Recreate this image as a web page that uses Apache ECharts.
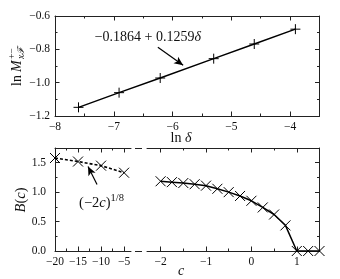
<!DOCTYPE html>
<html><head><meta charset="utf-8">
<script src="https://cdn.jsdelivr.net/npm/echarts@6/dist/echarts.min.js"></script>
<style>html,body{margin:0;padding:0;background:#fff}#c{width:340px;height:279px}</style>
</head><body><div id="c"></div>
<script>
// ---- data ----
const lnDelta = [-7.60, -6.91, -6.21, -5.30, -4.61, -3.91];
const lnM = [-1.148, -1.060, -0.972, -0.856, -0.768, -0.679];
const cLeft = [-20, -15, -10, -5];
const bLeft = [1.58, 1.52, 1.45, 1.33];
const cRight = [-2, -1.75, -1.5, -1.25, -1, -0.75, -0.5, -0.25, 0, 0.25, 0.5, 0.75, 1, 1.25, 1.5];
const bRight = [1.185, 1.17, 1.155, 1.135, 1.11, 1.057, 1.0, 0.935, 0.853, 0.74, 0.62, 0.435, 0, 0, 0];
// ticks
const topXMajor = [-8, -7, -6, -5, -4], topXMinor = [-7.5, -6.5, -5.5, -4.5];
const topYMajor = [-1.2, -1.0, -0.8, -0.6], topYMinor = [-1.1, -0.9, -0.7];
const leftXMajor = [-20, -15, -10, -5], leftXMinor = [-17.5, -12.5, -7.5];
const botYMajor = [0, 0.5, 1.0, 1.5], botYMinor = [0.25, 0.75, 1.25];
const rightXMajor = [-2, -1, 0, 1], rightXMinor = [-1.5, -0.5, 0.5];
// annotations (data coords)
const fitArrow = [[-6.25, -0.787], [-5.82, -0.895]];
const fitText = [-6.42, -0.727];
const powArrow = [[-10.87, 1.13], [-12.83, 1.437]];
const powText = [-9.9, 0.82];

const FONT = 'Liberation Serif';
const INK = '#111';
const fmt1 = v => (v < 0 ? '\u2212' : '') + Math.abs(v).toFixed(1);
const fmt0 = v => (v < 0 ? '\u2212' : '') + Math.abs(Math.round(v));

function ax(grid, min, max, pos, vals, len, line, labels, formatter, margin) {
  return {
    type: 'value', gridIndex: grid, min: min, max: max, position: pos,
    axisLine: {show: line, onZero: false, lineStyle: {color: '#222', width: 1}},
    axisTick: {show: true, inside: true, length: len, customValues: vals, lineStyle: {color: '#222', width: 1}},
    axisLabel: labels ? {show: true, customValues: vals, formatter: formatter, margin: margin,
      fontFamily: FONT, fontSize: 11.5, color: INK} : {show: false},
    splitLine: {show: false}, minorTick: {show: false}
  };
}
const MAJ = 4.5, MIN = 2.5;
const xAxes = [
  // grid 0 (top)
  ax(0, -8, -3.5, 'bottom', topXMajor, MAJ, true, true, fmt0, 5),
  ax(0, -8, -3.5, 'bottom', topXMinor, MIN, false, false),
  ax(0, -8, -3.5, 'top', topXMajor, MAJ, true, false),
  ax(0, -8, -3.5, 'top', topXMinor, MIN, false, false),
  // grid 1 (bottom left)
  ax(1, -20, -3.5, 'bottom', leftXMajor, MAJ, true, true, fmt0, 5),
  ax(1, -20, -3.5, 'bottom', leftXMinor, MIN, false, false),
  ax(1, -20, -3.5, 'top', leftXMajor, MAJ, true, false),
  ax(1, -20, -3.5, 'top', leftXMinor, MIN, false, false),
  // grid 2 (bottom right)
  ax(2, -2.3, 1.5, 'bottom', rightXMajor, MAJ, true, true, fmt0, 5),
  ax(2, -2.3, 1.5, 'bottom', rightXMinor, MIN, false, false),
  ax(2, -2.3, 1.5, 'top', rightXMajor, MAJ, true, false),
  ax(2, -2.3, 1.5, 'top', rightXMinor, MIN, false, false)
];
const yAxes = [
  ax(0, -1.2, -0.6, 'left', topYMajor, MAJ, true, true, fmt1, 5),
  ax(0, -1.2, -0.6, 'left', topYMinor, MIN, false, false),
  ax(0, -1.2, -0.6, 'right', topYMajor, MAJ, true, false),
  ax(0, -1.2, -0.6, 'right', topYMinor, MIN, false, false),
  ax(1, 0, 1.75, 'left', botYMajor, MAJ, true, true, fmt1, 9),
  ax(1, 0, 1.75, 'left', botYMinor, MIN, false, false),
  ax(2, 0, 1.75, 'right', botYMajor, MAJ, true, false),
  ax(2, 0, 1.75, 'right', botYMinor, MIN, false, false)
];

const plusPath = 'path://M5,0L5,10M0,5L10,5';
const crossPath = 'path://M0,0L10,10M10,0L0,10';
const mk = {color: '#000', borderColor: '#000', borderWidth: 1};

function arrowLine(pts) {
  return {
    silent: true, animation: false, symbol: ['none', 'arrow'], symbolSize: [6, 9],
    lineStyle: {color: '#000', width: 1.2, type: 'solid'}, label: {show: false},
    data: [[{coord: pts[0], symbol: 'none'}, {coord: pts[1], symbol: 'arrow'}]]
  };
}
function textPoint(pt, txt, rich) {
  return {
    silent: true, animation: false,
    data: [{coord: pt, symbol: 'circle', symbolSize: 0, itemStyle: {color: 'rgba(0,0,0,0)'},
      label: {show: true, position: 'inside', formatter: txt, rich: rich}}]
  };
}

const option = {
  animation: false,
  backgroundColor: '#fff',
  grid: [
    {left: 55, top: 16, width: 264.5, height: 100, outerBoundsMode: 'none'},
    {left: 55, top: 148, width: 76, height: 103, outerBoundsMode: 'none'},
    {left: 147, top: 148, width: 172.5, height: 103, outerBoundsMode: 'none'}
  ],
  xAxis: xAxes,
  yAxis: yAxes,
  series: [
    {
      type: 'line', xAxisIndex: 0, yAxisIndex: 0,
      data: lnDelta.map((x, i) => [x, lnM[i]]),
      symbol: plusPath, symbolSize: 10, itemStyle: mk,
      lineStyle: {color: '#000', width: 1.5},
      markLine: arrowLine(fitArrow),
      markPoint: textPoint(fitText, '{n|\u22120.1864 + 0.1259}{i|\u03b4}', {
        n: {fontFamily: FONT, fontSize: 14, color: INK},
        i: {fontFamily: FONT, fontSize: 14, fontStyle: 'italic', color: INK}
      })
    },
    {
      type: 'line', xAxisIndex: 4, yAxisIndex: 4,
      data: cLeft.map((x, i) => [x, bLeft[i]]),
      symbol: crossPath, symbolSize: 10, itemStyle: mk,
      lineStyle: {color: '#000', width: 1.6, type: [3, 2]},
      markLine: arrowLine(powArrow),
      markPoint: textPoint(powText, '{n|(\u22122}{i|c}{n|)}{s|1/8}', {
        n: {fontFamily: FONT, fontSize: 14.5, color: INK, lineHeight: 20},
        i: {fontFamily: FONT, fontSize: 14.5, fontStyle: 'italic', color: INK, lineHeight: 20},
        s: {fontFamily: FONT, fontSize: 10.5, color: INK, lineHeight: 10, verticalAlign: 'top'}
      })
    },
    {
      type: 'line', xAxisIndex: 8, yAxisIndex: 6,
      data: cRight.map((x, i) => [x, bRight[i]]),
      symbol: crossPath, symbolSize: 10, itemStyle: mk,
      lineStyle: {color: '#000', width: 1.5}
    }
  ],
  graphic: [
    // axis break dashes
    {type: 'line', shape: {x1: 135, y1: 148.5, x2: 142, y2: 148.5}, style: {stroke: '#222', lineWidth: 1}},
    {type: 'line', shape: {x1: 135, y1: 251.5, x2: 142, y2: 251.5}, style: {stroke: '#222', lineWidth: 1}},
    // axis titles
    {type: 'text', x: 181, y: 138, style: {text: '{n|ln }{i|\u03b4}', align: 'center', verticalAlign: 'middle',
      rich: {n: {fontFamily: FONT, fontSize: 14, fill: INK}, i: {fontFamily: FONT, fontSize: 14, fontStyle: 'italic', fill: INK}}}},
    {type: 'text', x: 181, y: 271, style: {text: 'c', fontFamily: FONT, fontSize: 14, fontStyle: 'italic', fill: INK, align: 'center', verticalAlign: 'middle'}},
    {type: 'text', x: 21, y: 200, rotation: Math.PI / 2, style: {text: '{i|B}{n|(}{i|c}{n|)}', align: 'center', verticalAlign: 'middle',
      rich: {n: {fontFamily: FONT, fontSize: 14.5, fill: INK}, i: {fontFamily: FONT, fontSize: 14.5, fontStyle: 'italic', fill: INK}}}},
    {type: 'group', x: 17, y: 66, rotation: Math.PI / 2, children: [
      {type: 'text', style: {text: 'ln', x: -20, y: 0, fontFamily: FONT, fontSize: 14, fill: INK, align: 'left', verticalAlign: 'middle'}},
      {type: 'text', style: {text: 'M', x: -6, y: 0, fontFamily: FONT, fontSize: 14, fontStyle: 'italic', fill: INK, align: 'left', verticalAlign: 'middle'}},
      {type: 'text', style: {text: 'x\u2131', x: 7, y: 4, fontFamily: FONT, fontSize: 9.5, fontStyle: 'italic', fill: INK, align: 'left', verticalAlign: 'middle'}},
      {type: 'text', style: {text: '+\u2212', x: 7, y: -5, fontFamily: FONT, fontSize: 9.5, fill: INK, align: 'left', verticalAlign: 'middle'}}
    ]}
  ]
};
const chart = echarts.init(document.getElementById('c'), null, {renderer: 'canvas'});
chart.setOption(option);
</script></body></html>
